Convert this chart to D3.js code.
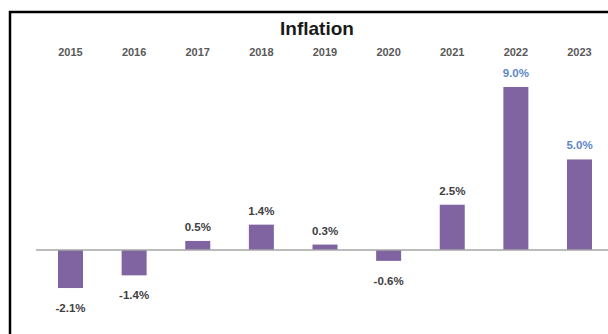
<!doctype html>
<html>
<head>
<style>
  body { margin: 0; background: #fff; }
  svg { display: block; font-family: "Liberation Sans", Arial, sans-serif; }
</style>
<script src="https://d3js.org/d3.v7.min.js"></script>
</head>
<body>
<svg width="608" height="334"></svg>
<script>
  var years = ["2015", "2016", "2017", "2018", "2019", "2020", "2021", "2022", "2023"];
  var inflation = [-2.1, -1.4, 0.5, 1.4, 0.3, -0.6, 2.5, 9.0, 5.0];
  var highlight = ["2022", "2023"];

  var data = years.map(function(y, i) { return { year: y, value: inflation[i] }; });

  var svg = d3.select("svg");

  // chart frame (cut off at right and bottom in the original)
  svg.append("path")
     .attr("d", "M10,340 L10,12 L612,12")
     .attr("fill", "none")
     .attr("stroke", "#000")
     .attr("stroke-width", 2.5);

  var x = d3.scalePoint().domain(years).range([70.5, 579.5]);
  var y = d3.scaleLinear().domain([0, 9]).range([250, 87]);
  var barW = 25;

  svg.append("text")
     .attr("x", 317)
     .attr("y", 35)
     .attr("text-anchor", "middle")
     .attr("font-size", "19px")
     .attr("font-weight", "bold")
     .attr("fill", "#1a1a1a")
     .text("Inflation");

  // year labels along the top
  svg.append("g")
     .selectAll("text")
     .data(years)
     .enter().append("text")
     .attr("x", function(d) { return x(d); })
     .attr("y", 56)
     .attr("text-anchor", "middle")
     .attr("font-size", "11px")
     .attr("font-weight", "bold")
     .attr("fill", "#595959")
     .text(function(d) { return d; });

  svg.selectAll(".bar")
     .data(data)
     .enter().append("rect")
     .attr("class", "bar")
     .attr("x", function(d) { return x(d.year) - barW / 2; })
     .attr("y", function(d) { return y(Math.max(0, d.value)); })
     .attr("width", barW)
     .attr("height", function(d) { return Math.abs(y(d.value) - y(0)); })
     .attr("fill", "#8064a2");

  // zero line
  svg.append("line")
     .attr("x1", 36)
     .attr("x2", 608)
     .attr("y1", y(0))
     .attr("y2", y(0))
     .attr("stroke", "#a6a6a6")
     .attr("stroke-width", 1.5);

  svg.selectAll(".lbl")
     .data(data)
     .enter().append("text")
     .attr("class", "lbl")
     .attr("x", function(d) { return x(d.year); })
     .attr("y", function(d) { return d.value >= 0 ? y(d.value) - 10 : y(d.value) + 24; })
     .attr("text-anchor", "middle")
     .attr("font-size", "11.5px")
     .attr("font-weight", "bold")
     .attr("fill", function(d) { return highlight.indexOf(d.year) >= 0 ? "#5b86c9" : "#404040"; })
     .text(function(d) { return d.value.toFixed(1) + "%"; });
</script>
</body>
</html>
